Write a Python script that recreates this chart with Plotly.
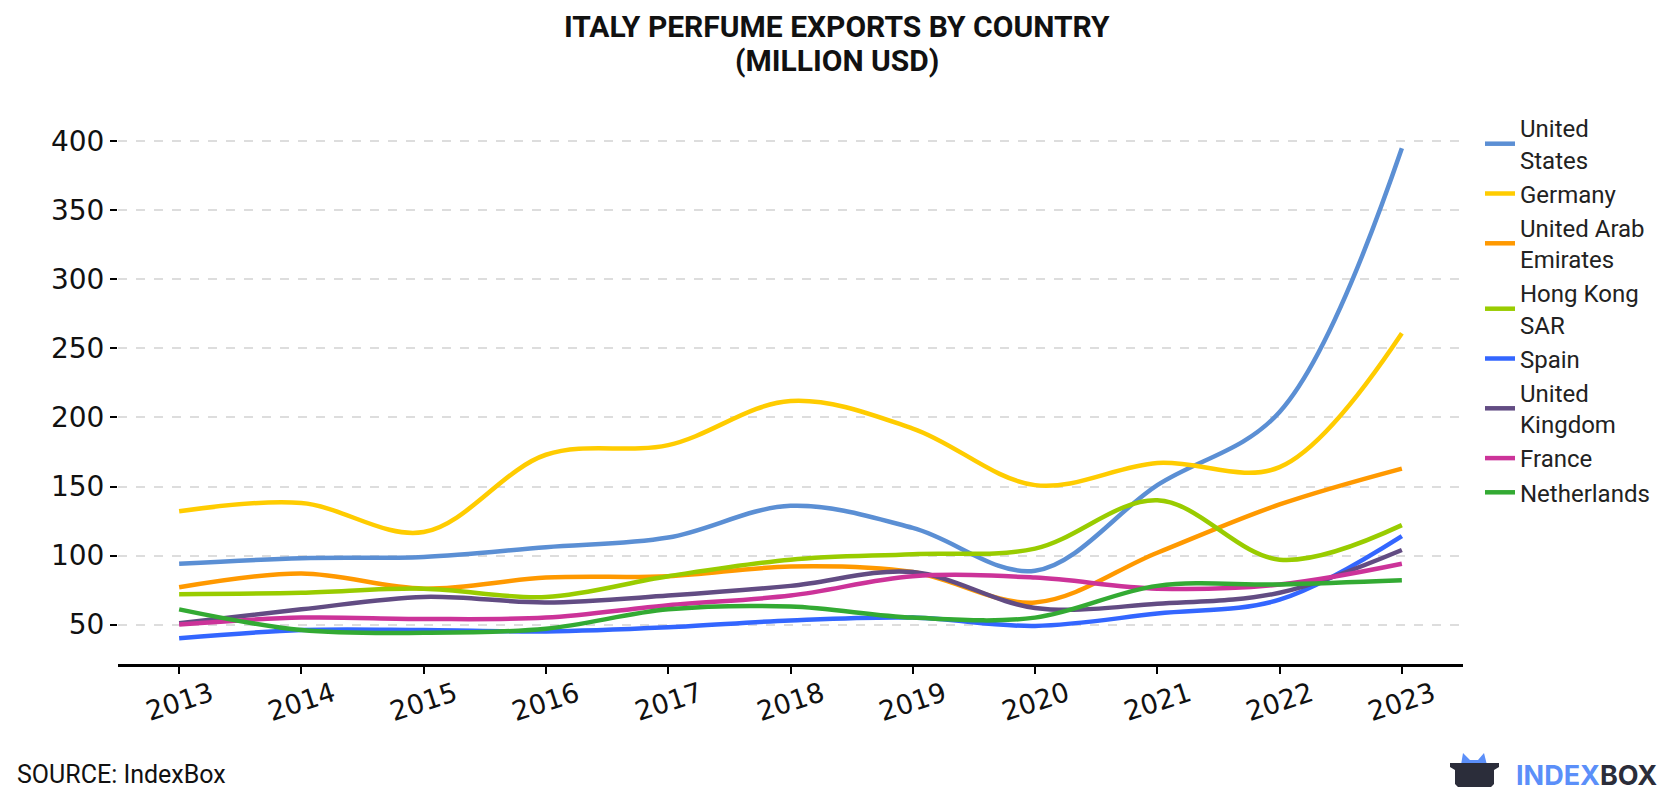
import plotly.graph_objects as go

years = [2013, 2014, 2015, 2016, 2017, 2018, 2019, 2020, 2021, 2022, 2023]

united_states = [94, 98, 99, 106, 113, 136, 120, 89, 151, 204, 395]
germany = [132, 138, 117, 173, 180, 212, 192, 151, 167, 164, 261]
uae = [77, 87, 76, 84, 85, 92, 88, 66, 102, 137, 163]
hong_kong = [72, 73, 76, 70, 85, 97, 101, 105, 140, 97, 122]
spain = [40, 46, 46, 45, 48, 53, 55, 49, 58, 68, 114]
united_kingdom = [51, 61, 70, 66, 71, 78, 88, 62, 65, 73, 104]
france = [50, 55, 54, 55, 64, 71, 85, 84, 76, 79, 94]
netherlands = [61, 46, 44, 47, 61, 63, 55, 55, 78, 79, 82]

series_names = ["United<br>States", "Germany", "United Arab<br>Emirates", "Hong Kong<br>SAR",
                "Spain", "United<br>Kingdom", "France", "Netherlands"]
series_values = [united_states, germany, uae, hong_kong, spain, united_kingdom, france, netherlands]
series_colors = ["#5B8FD4", "#FFCC00", "#FF9900", "#99CC00", "#3366FF", "#624C83", "#CC3399", "#33AA33"]

y_ticks = [50, 100, 150, 200, 250, 300, 350, 400]
x_tick_labels = [str(y) for y in years]

W, H = 1680, 800
L, R, T, B = 118, 217, 105, 136
PW, PH = W - L - R, H - T - B

def px_x(px):
    return (px - L) / PW

def px_y(py):
    return (H - B - py) / PH

fig = go.Figure()
for name, vals, col in zip(series_names, series_values, series_colors):
    fig.add_trace(go.Scatter(
        x=years, y=vals, name=name, mode="lines",
        line=dict(color=col, width=4.5, shape="spline", smoothing=1.0),
    ))

fig.update_layout(
    width=W, height=H,
    paper_bgcolor="white", plot_bgcolor="white",
    margin=dict(l=L, r=R, t=T, b=B),
    font=dict(family="Roboto", color="#111111"),
    legend=dict(
        x=px_x(1480), xanchor="left", y=px_y(106), yanchor="top",
        font=dict(family="Roboto", size=24, color="#222222"),
        itemwidth=30, tracegroupgap=0, maxheight=700,
    ),
    showlegend=True,
)

fig.update_xaxes(
    range=[2012.5, 2023.5],
    tickvals=years, showticklabels=False,
    showline=True, linecolor="black", linewidth=3,
    ticks="outside", ticklen=7, tickwidth=2, tickcolor="black",
    showgrid=False, zeroline=False, automargin=False,
)
fig.update_yaxes(
    range=[21.4, 426.4],
    tickvals=y_ticks,
    tickfont=dict(family="DejaVu Sans", size=28, color="#111111"),
    showline=False,
    ticks="outside", ticklen=7, tickwidth=2, tickcolor="black",
    showgrid=True, gridcolor="#dddddd", gridwidth=2, griddash="dash",
    zeroline=False, automargin=False,
)

# rotated x tick labels centred on their ticks
for yr, lab in zip(years, x_tick_labels):
    fig.add_annotation(text=lab, xref="x", yref="paper", x=yr, y=px_y(701),
                       xanchor="center", yanchor="middle", textangle=-18, showarrow=False,
                       font=dict(family="DejaVu Sans", size=27, color="#111111"))

# title (two lines)
fig.add_annotation(text="<b>ITALY PERFUME EXPORTS BY COUNTRY</b>", xref="paper", yref="paper",
                   x=px_x(837), y=px_y(27), xanchor="center", yanchor="middle", showarrow=False,
                   font=dict(family="Roboto", size=30, color="#111111"))
fig.add_annotation(text="<b>(MILLION USD)</b>", xref="paper", yref="paper",
                   x=px_x(837), y=px_y(61), xanchor="center", yanchor="middle", showarrow=False,
                   font=dict(family="Roboto", size=30, color="#111111"))

fig.add_annotation(
    text="SOURCE: IndexBox", xref="paper", yref="paper",
    x=px_x(15), xanchor="left", y=px_y(774), yanchor="middle",
    showarrow=False, font=dict(family="Roboto", size=25, color="#111111"),
)
# logo text
fig.add_annotation(
    text="<b><span style='color:#5B8FF9'>INDEX</span><span style='color:#2B2D3A'>BOX</span></b>",
    xref="paper", yref="paper", x=px_x(1514), xanchor="left", y=px_y(775), yanchor="middle",
    showarrow=False, font=dict(family="Inter", size=27),
)
# logo icon (box)
ears = [(1461, 765), (1463, 753), (1470, 760), (1478, 760), (1484, 753), (1487, 765)]
box = [(1450, 763), (1499, 763), (1499, 767), (1494, 770), (1494, 784), (1491, 787),
       (1458, 787), (1455, 784), (1455, 770), (1450, 767)]

def to_path(pts):
    return "M " + " L ".join(f"{px_x(a)} {px_y(b)}" for a, b in pts) + " Z"

fig.add_shape(type="path", xref="paper", yref="paper", path=to_path(ears),
              fillcolor="#5B8FF9", line=dict(width=0))
fig.add_shape(type="path", xref="paper", yref="paper", path=to_path(box),
              fillcolor="#2B2D3A", line=dict(width=0))

fig.write_html("out.html", config={"displayModeBar": False},
               post_script="document.body.style.margin='0';")
